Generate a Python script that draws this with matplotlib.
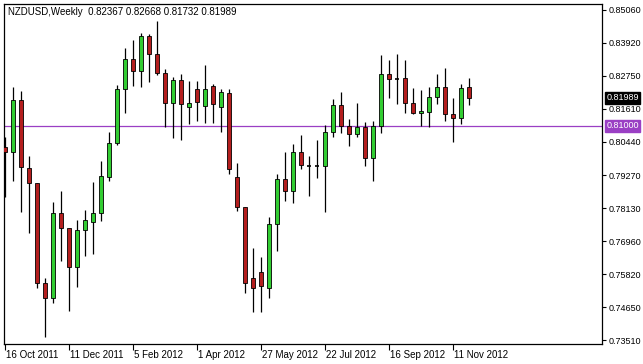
import matplotlib
matplotlib.use("Agg")
import matplotlib.pyplot as plt
import numpy as np

opens = [0.80265, 0.8009, 0.8191, 0.7953, 0.79005, 0.75505, 0.7498, 0.77955, 0.7743, 0.76065,
         0.7736, 0.7764, 0.77955, 0.79215, 0.80405, 0.82295, 0.83345, 0.82925, 0.8415, 0.8352,
         0.82855, 0.81805, 0.8261, 0.81665, 0.82295, 0.8170, 0.8240, 0.81665, 0.82155, 0.79215,
         0.78165, 0.7568, 0.7589, 0.7533, 0.7757, 0.79145, 0.78725, 0.8009, 0.7960, 0.7960,
         0.7960, 0.8079, 0.81735, 0.8100, 0.8072, 0.80965, 0.7988, 0.8100, 0.8282, 0.82645,
         0.8268, 0.81805, 0.81455, 0.8149, 0.82015, 0.82365, 0.8142, 0.8128, 0.82367]
highs = [0.80615, 0.82365, 0.82225, 0.7995, 0.79005, 0.7568, 0.7834, 0.78725, 0.7743, 0.7771,
         0.7806, 0.7904, 0.79775, 0.8080, 0.82435, 0.8373, 0.8401, 0.84255, 0.8422, 0.84675,
         0.82995, 0.82715, 0.8282, 0.82575, 0.82575, 0.83135, 0.8247, 0.82295, 0.82295, 0.79705,
         0.78165, 0.7673, 0.76415, 0.77815, 0.7932, 0.8009, 0.8037, 0.80685, 0.7995, 0.8051,
         0.81035, 0.81945, 0.8219, 0.81245, 0.81805, 0.8114, 0.81175, 0.83485, 0.8331, 0.8352,
         0.8331, 0.8233, 0.8226, 0.82365, 0.8282, 0.8303, 0.8198, 0.8247, 0.82668]
lows = [0.78515, 0.79075, 0.7799, 0.77255, 0.7533, 0.73615, 0.74805, 0.76275, 0.74525, 0.75365,
        0.7645, 0.76535, 0.77675, 0.79075, 0.80335, 0.81455, 0.8240, 0.82365, 0.8254, 0.82785,
        0.80965, 0.8058, 0.8051, 0.8107, 0.81175, 0.81105, 0.81105, 0.8079, 0.7932, 0.78025,
        0.75155, 0.7449, 0.7449, 0.7498, 0.76625, 0.78375, 0.78305, 0.79495, 0.7855, 0.7918,
        0.7799, 0.80615, 0.80755, 0.8030, 0.80615, 0.7960, 0.79075, 0.80755, 0.8198, 0.8177,
        0.81455, 0.8142, 0.8100, 0.80965, 0.8177, 0.81175, 0.8044, 0.8107, 0.81732]
closes = [0.8009, 0.8191, 0.79565, 0.79005, 0.75505, 0.7498, 0.77955, 0.7743, 0.76065, 0.7736,
          0.7771, 0.77955, 0.7925, 0.80405, 0.82295, 0.83345, 0.82925, 0.8415, 0.8352, 0.82855,
          0.81805, 0.8261, 0.8177, 0.81805, 0.8184, 0.82295, 0.8177, 0.8219, 0.79495, 0.78165,
          0.75505, 0.7533, 0.7540, 0.7757, 0.79145, 0.78725, 0.8009, 0.79635, 0.7960, 0.7960,
          0.8079, 0.81735, 0.8100, 0.8072, 0.80965, 0.7988, 0.8100, 0.8282, 0.82645, 0.82645,
          0.81805, 0.81455, 0.81525, 0.82015, 0.82365, 0.8142, 0.8128, 0.8233, 0.81989]

xtick_idx = [0, 8, 16, 24, 32, 40, 48, 56]
xtick_labels = ["16 Oct 2011", "11 Dec 2011", "5 Feb 2012", "1 Apr 2012",
                "27 May 2012", "22 Jul 2012", "16 Sep 2012", "11 Nov 2012"]
ytick_vals = [0.85060, 0.83920, 0.82750, 0.81610, 0.80440, 0.79270,
              0.78130, 0.76960, 0.75820, 0.74650, 0.73510]
level_line = 0.81000
title = "NZDUSD,Weekly  0.82367 0.82668 0.81732 0.81989"

W, H = 643, 364
fig = plt.figure(figsize=(W/100, H/100), dpi=100)
fig.patch.set_facecolor("white")
ax = fig.add_axes([4/W, 1-344/H, 598/W, 340/H])
ax.set_facecolor("white")
FONT = "Liberation Sans"
FS = 6.5

x = np.arange(len(opens))
o = np.array(opens); c = np.array(closes); h = np.array(highs); l = np.array(lows)

ax.axhline(level_line, color="#9a3fc4", lw=0.9, zorder=1)

ax.vlines(x, l, h, color="black", lw=0.9, zorder=2)
up = c > o
down = c < o
flat = c == o
bw = 0.62
ax.bar(x[up], (c-o)[up], bottom=o[up], width=bw, color="#32cd32",
       edgecolor="black", linewidth=0.6, zorder=3)
ax.bar(x[down], (o-c)[down], bottom=c[down], width=bw, color="#b41e1e",
       edgecolor="black", linewidth=0.6, zorder=3)
ax.hlines(o[flat], x[flat]-bw/2, x[flat]+bw/2, color="black", lw=1.2, zorder=3)

ax.set_xlim(-0.125, -0.125 + 598/8)
ax.set_ylim(0.8541 - 0.00035*344, 0.8541 - 0.00035*4)

for s in ax.spines.values():
    s.set_color("black"); s.set_linewidth(0.9)

ax.yaxis.tick_right()
ax.set_yticks(ytick_vals)
ax.set_yticklabels([f"{v:.5f}" for v in ytick_vals], fontfamily=FONT, fontsize=FS)
ax.tick_params(axis="y", direction="out", length=3, width=0.8, pad=1.5, colors="black")
ax.set_xticks(xtick_idx)
ax.set_xticklabels([])
ax.tick_params(axis="x", direction="out", length=4, width=0.8)
for xi, lab in zip(xtick_idx, xtick_labels):
    ax.annotate(lab, xy=(xi, 0), xycoords=("data", "axes fraction"),
                xytext=(1, -8), textcoords="offset points", ha="left", va="center",
                fontfamily=FONT, fontsize=FS + 0.5)

# highlighted price labels
def price_box(val, bg):
    ax.annotate(f"{val:.5f}", xy=(1, val), xycoords=("axes fraction", "data"),
                xytext=(3.3, 0), textcoords="offset points", ha="left", va="center",
                fontfamily=FONT, fontsize=FS, color="white",
                bbox=dict(boxstyle="square,pad=0.15", fc=bg, ec=bg), zorder=5,
                annotation_clip=False)

price_box(closes[-1], "black")
price_box(level_line, "#9a3fc4")

ax.text(4/598, 1-8/340, title, transform=ax.transAxes, ha="left", va="center",
        fontfamily=FONT, fontsize=FS + 0.5)

fig.savefig("out.png", dpi=100)
